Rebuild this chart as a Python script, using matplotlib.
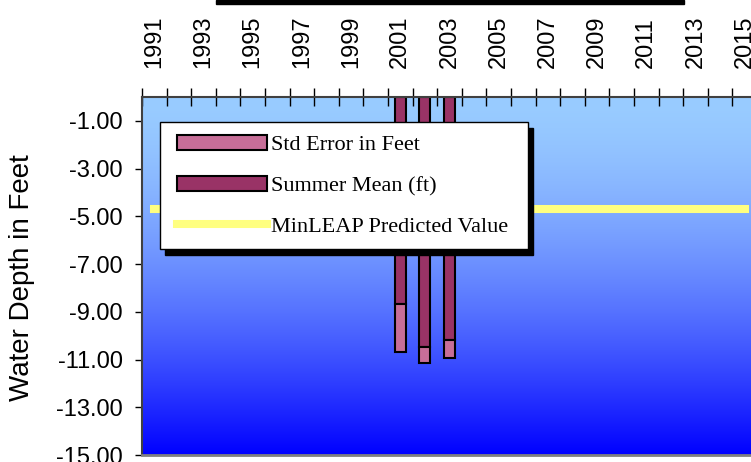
import numpy as np
import matplotlib.pyplot as plt
import matplotlib as mpl
from matplotlib.patches import Patch, Rectangle
from matplotlib.lines import Line2D
from matplotlib.ticker import FormatStrFormatter

# data
years = list(range(1991, 2016))
bar_years = [2001, 2002, 2003]
summer_mean = [-8.68, -10.49, -10.18]
std_error = [1.99, 0.64, 0.77]
minleap = [-4.7] * len(years)

mean_color = '#993366'
se_color = '#C76E98'
yellow = '#FFFF80'

plt.rcParams['font.family'] = ['Liberation Sans', 'DejaVu Sans']

W, H = 751, 462
fig = plt.figure(figsize=(W / 100, H / 100), dpi=100)
ax = fig.add_axes([142/W, 7/H, 615/W, 358/H])

# gradient background, light blue at top to blue at bottom
t = np.linspace(0, 1, 256)[:, None] ** 1.6
top = np.array([153, 204, 255]) / 255.0
bot = np.array([0, 0, 255]) / 255.0
grad = top + (bot - top) * t[..., None]
ax.imshow(grad, extent=[-0.5, len(years) - 0.5, -15, 0], aspect='auto',
          zorder=0, interpolation='bilinear')

xpos = np.arange(len(years))
bx = [years.index(y) for y in bar_years]

ax.bar(bx, summer_mean, width=0.44, color=mean_color, edgecolor='black',
       linewidth=1.5, zorder=2)
ax.bar(bx, [-s for s in std_error], width=0.44, bottom=summer_mean,
       color=se_color, edgecolor='black', linewidth=1.5, zorder=2)
ax.plot(xpos, minleap, color=yellow, linewidth=5.8,
        solid_capstyle='projecting', zorder=3)

ax.set_xlim(-0.5, len(years) - 0.5)
ax.set_ylim(-15, 0)

# x axis on top, labels on odd years, ticks on category boundaries
ax.xaxis.tick_top()
ax.set_xticks(xpos[::2])
ax.set_xticklabels([str(y) for y in years[::2]], rotation=90, fontsize=17)
ax.set_xticks(np.arange(len(years) + 1) - 0.5, minor=True)
ax.tick_params(axis='x', which='major', length=0, pad=21)
ax.tick_params(axis='x', which='minor', direction='inout', length=13, width=1,
               top=True, bottom=False)

ax.set_yticks(np.arange(-15, 0, 2))
ax.yaxis.set_major_formatter(FormatStrFormatter('%.2f'))
ax.tick_params(axis='y', direction='out', length=5, width=1, labelsize=17, pad=9)

ax.spines['top'].set_color('#404040')
ax.spines['top'].set_linewidth(1.5)
ax.spines['left'].set_color('#404040')
ax.spines['left'].set_linewidth(1.5)
ax.spines['bottom'].set_color('#808080')
ax.spines['bottom'].set_linewidth(2)

fig.text(21.7/W, 0.40, 'Water Depth in Feet', rotation=90, fontsize=20,
         ha='center', va='center')

# bottom edge of the chart title box
fig.patches.append(Rectangle((216/W, 1 - 4/H), 468/W, 4/H,
                             transform=fig.transFigure, color='black'))

# legend box with a black drop shadow
lx0, ly0, lx1, ly1 = 160, 122, 528, 249
fig.patches.append(Rectangle(((lx0 + 5)/W, 1 - (ly1 + 6)/H), (lx1 - lx0)/W,
                             (ly1 - ly0)/H, transform=fig.transFigure,
                             color='black', zorder=5))
fig.patches.append(Rectangle((lx0/W, 1 - ly1/H), (lx1 - lx0)/W, (ly1 - ly0)/H,
                             transform=fig.transFigure, facecolor='white',
                             edgecolor='black', linewidth=1, zorder=5.5))

handles = [Patch(facecolor=se_color, edgecolor='black', linewidth=1.5),
           Patch(facecolor=mean_color, edgecolor='black', linewidth=1.5),
           Line2D([], [], color=yellow, linewidth=5.8)]
labels = ['Std Error in Feet', 'Summer Mean (ft)', 'MinLEAP Predicted Value']
leg = fig.legend(handles, labels, loc='upper left',
                 bbox_to_anchor=(177/W, 1 - 135/H), borderaxespad=0,
                 prop={'family': 'Liberation Serif', 'size': 16},
                 handlelength=4.05, handleheight=0.68, handletextpad=0.18,
                 borderpad=0, labelspacing=0.91, frameon=False)
leg.set_zorder(6)

fig.savefig('out.png', dpi=100)
